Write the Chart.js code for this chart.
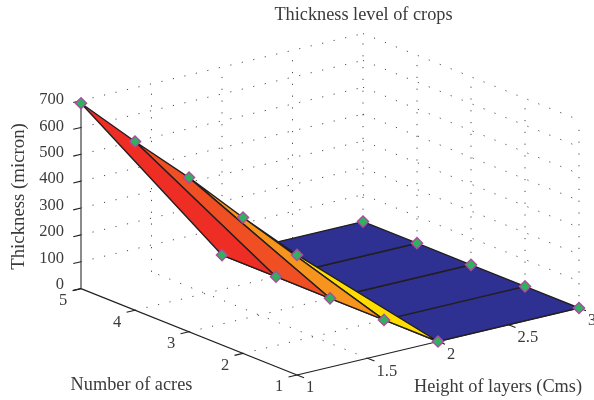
<!DOCTYPE html>
<html><head><meta charset="utf-8">
<style>html,body{margin:0;padding:0;background:#fff}canvas{display:block}</style>
<script src="https://cdn.jsdelivr.net/npm/chart.js@4/dist/chart.umd.min.js"></script>
</head><body><canvas id="c" width="594" height="400"></canvas>
<script>
// Data
const heights = [1, 2, 3];
const acres = [1, 2, 3, 4, 5];
const thicknessAtHeight1 = [447, 506, 574, 628, 690];
const thicknessAtHeight2 = [0, 0, 0, 0, 0];
const thicknessAtHeight3 = [0, 0, 0, 0, 0];
const heightTicks = [1, 1.5, 2, 2.5, 3];
const acreTicks = [1, 2, 3, 4, 5];
const thicknessTicks = [0, 100, 200, 300, 400, 500, 600, 700];
const stripColors = ['#FFDD00', '#F7941D', '#F04E23', '#EE2D24'];
const flatColor = '#2E3192';
const titleText = 'Thickness level of crops';
const heightTitle = 'Height of layers (Cms)';
const acreTitle = 'Number of acres';
const thicknessTitle = 'Thickness (micron)';

// Oblique view used by the 3-D axes
const view = {ox: 297, oy: 375, xx: 141, xy: -33.5, yx: -54, yy: -21.6, zy: -0.2686};
function proj(h, a, t) {
  return {
    x: view.ox + (h - 1) * view.xx + (a - 1) * view.yx,
    y: view.oy + (h - 1) * view.xy + (a - 1) * view.yy + t * view.zy
  };
}
const zMax = 700, hMin = 1, hMax = 3, aMin = 1, aMax = 5;
const INK = '#231F20';
const datasets = [];
function line(points, opts) {
  datasets.push(Object.assign({data: points, showLine: true, pointRadius: 0, tension: 0, clip: false,
    borderColor: INK, borderWidth: 1, fill: false}, opts));
}
function grid(a, b) {
  line([proj(...a), proj(...b)], {borderColor: '#4a4a4a', borderWidth: 1, borderDash: [1.2, 10.6]});
}
// Floor grid
heightTicks.slice(1, -1).forEach(h => grid([h, aMin, 0], [h, aMax, 0]));
acreTicks.slice(1, -1).forEach(a => grid([hMin, a, 0], [hMax, a, 0]));
// Back walls
thicknessTicks.slice(1).forEach(t => {
  grid([hMin, aMax, t], [hMax, aMax, t]);
  grid([hMax, aMax, t], [hMax, aMin, t]);
});
heightTicks.slice(1).forEach(h => grid([h, aMax, 0], [h, aMax, zMax]));
acreTicks.slice(0, -1).forEach(a => grid([hMax, a, 0], [hMax, a, zMax]));

// Axes and ticks
line([proj(hMin, aMax, 0), proj(hMin, aMax, zMax)], {borderColor: '#6d6e71', borderWidth: 1.6});
line([proj(hMin, aMin, 0), proj(hMin, aMax, 0)], {borderWidth: 1.2});
line([proj(hMin, aMin, 0), proj(hMax, aMin, 0)], {borderWidth: 1.2});
thicknessTicks.forEach(t => line([proj(hMin, aMax, t), proj(hMin - 0.055, aMax, t)], {borderWidth: 1.1}));
acreTicks.forEach(a => line([proj(hMin, a, 0), proj(hMin - 0.06, a, 0)], {borderWidth: 1.1}));
heightTicks.forEach(h => line([proj(h, aMin, 0), proj(h, aMin - 0.13, 0)], {borderWidth: 1.1}));

// Surface
const rows = [thicknessAtHeight1, thicknessAtHeight2, thicknessAtHeight3];
function quad(i, j, color) {
  const p = (hi, ai) => proj(heights[hi], acres[ai], rows[hi][ai]);
  const pts = [p(i, j), p(i, j + 1), p(i + 1, j + 1), p(i + 1, j), p(i, j)];
  line(pts, {fill: 'shape', backgroundColor: color, borderWidth: 1.4, borderJoinStyle: 'round'});
}
for (let j = 0; j < acres.length - 1; j++) quad(1, j, flatColor);
for (let j = 0; j < acres.length - 1; j++) quad(0, j, stripColors[j]);

// Markers
rows.forEach((row, hi) => {
  datasets.push({data: row.map((t, ai) => proj(heights[hi], acres[ai], t)), showLine: false,
    pointStyle: 'rectRot', pointRadius: 5.6, pointBackgroundColor: '#2EB25C',
    pointBorderColor: '#AE4AA2', pointBorderWidth: 1.4, clip: false});
});
datasets.forEach((d, i) => { d.order = -i; });

const textPlugin = {
  id: 'axisText',
  afterDatasetsDraw(chart) {
    const c = chart.ctx;
    c.save();
    c.fillStyle = '#3c3a3b';
    c.textBaseline = 'middle';
    const font = s => `${s}px "Liberation Serif"`;
    c.font = font(16.5);
    c.textAlign = 'right';
    thicknessTicks.forEach(t => { const p = proj(hMin, aMax, t); c.fillText(String(t), p.x - 17, p.y - 4 + t * 0.005); });
    c.textAlign = 'center';
    acreTicks.forEach(a => { const p = proj(hMin, a, 0); c.fillText(String(a), p.x - 18, p.y + 12); });
    c.textAlign = 'left';
    heightTicks.forEach(h => { const p = proj(h, aMin, 0); c.fillText(String(h), p.x + 9, p.y + 13); });
    c.font = font(18.3);
    c.textAlign = 'center';
    c.fillText(titleText, 363.5, 15);
    c.fillText(acreTitle, 131.5, 385);
    c.fillText(heightTitle, 498, 387);
    c.translate(19, 196.5);
    c.rotate(-Math.PI / 2);
    c.font = font(18.8);
    c.fillText(thicknessTitle, 0, 0);
    c.restore();
  }
};

new Chart(document.getElementById('c'), {
  type: 'scatter',
  data: {datasets},
  options: {
    responsive: false, animation: false, events: [],
    layout: {padding: 0, autoPadding: false},
    plugins: {legend: {display: false}, tooltip: {enabled: false}, title: {display: false}},
    scales: {
      x: {type: 'linear', min: 0, max: 594, display: false},
      y: {type: 'linear', min: 0, max: 400, reverse: true, display: false}
    }
  },
  plugins: [textPlugin]
});
</script></body></html>
